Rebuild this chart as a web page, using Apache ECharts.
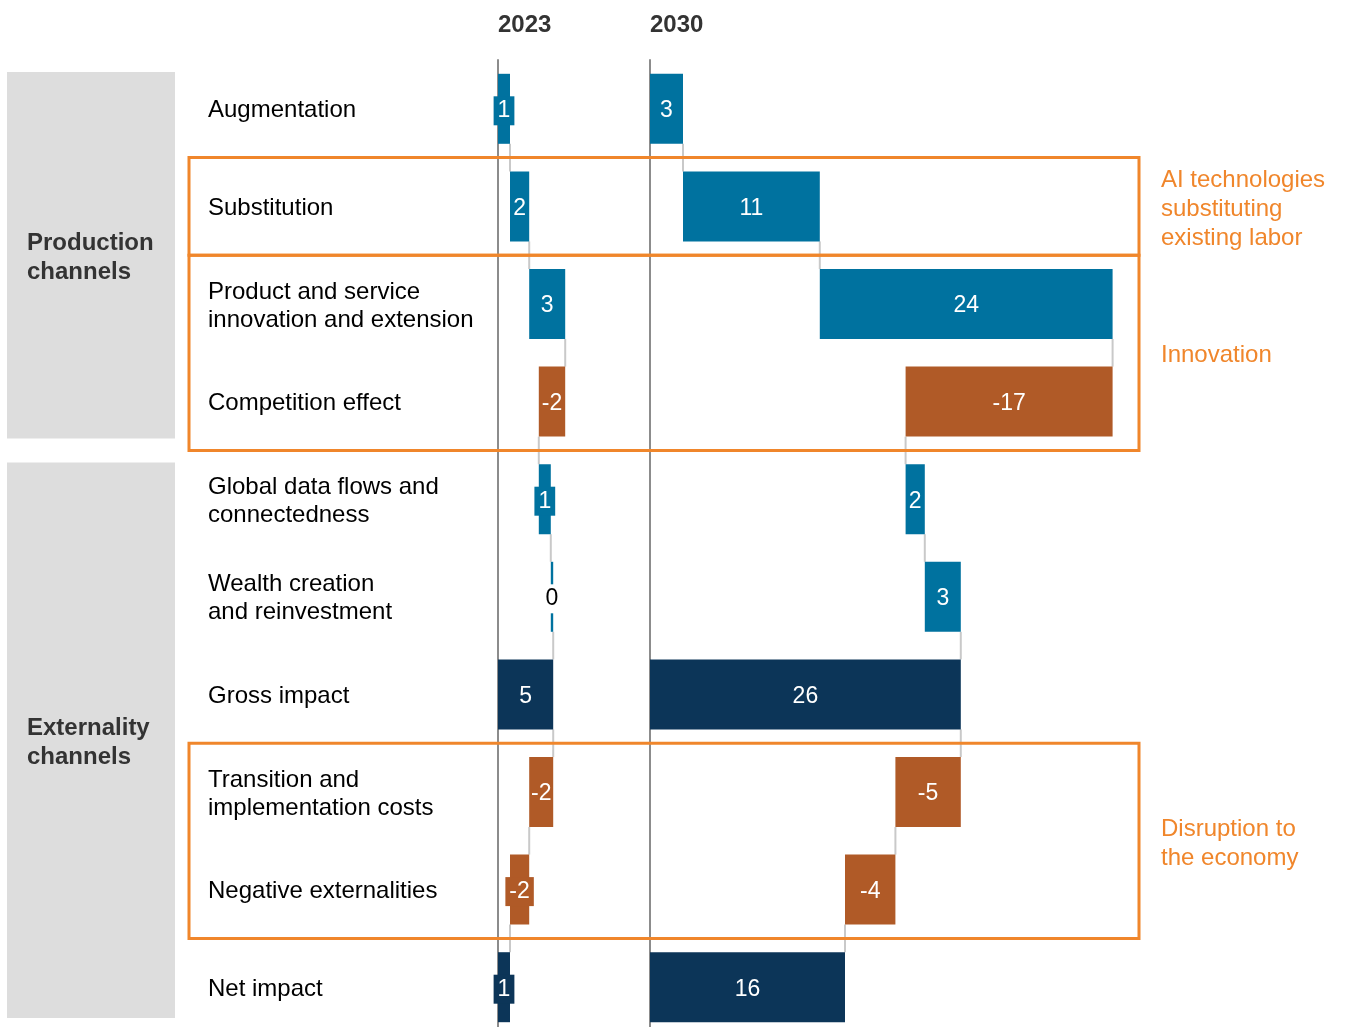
<!DOCTYPE html>
<html>
<head>
<meta charset="utf-8">
<script src="https://cdn.jsdelivr.net/npm/echarts@6/dist/echarts.min.js"></script>
<style>
  html, body { margin: 0; padding: 0; background: #fff; }
  #chart { width: 1346px; height: 1027px; }
</style>
</head>
<body>
<div id="chart"></div>
<script>
// ---- data ----
var categories = [
    'Augmentation',
    'Substitution',
    'Product and service\ninnovation and extension',
    'Competition effect',
    'Global data flows and\nconnectedness',
    'Wealth creation\nand reinvestment',
    'Gross impact',
    'Transition and\nimplementation costs',
    'Negative externalities',
    'Net impact'
];
var kinds = ['delta', 'delta', 'delta', 'delta', 'delta', 'delta', 'total', 'delta', 'delta', 'total'];
var values2023 = [1.0, 1.6, 3.0, -2.2, 1.0, 0.2, 4.6, -2.0, -1.6, 1.0];
var values2030 = [2.75, 11.4, 24.4, -17.25, 1.6, 3.0, 25.9, -5.45, -4.2, 16.25];
var panelTitles = ['2023', '2030'];
var groupNames = ['Production\nchannels', 'Externality\nchannels'];
var groupRows = [[0, 3], [4, 9]];
var noteTexts = ['AI technologies\nsubstituting\nexisting labor', 'Innovation', 'Disruption to\nthe economy'];
var noteRows = [[1, 1], [2, 3], [7, 8]];

// ---- layout ----
var FONT = '"Liberation Sans", Arial, sans-serif';
var TOP = 60;
var ROW = 97.6;
var BAR_H = 70;
var PX = 12;            // pixels per unit, same for both panels
var LABEL_SIZE = 23;
var grids = [
    {left: 498, top: TOP, width: 152, height: ROW * 10},
    {left: 650, top: TOP, width: 489, height: ROW * 10}
];
var colors = {up: '#00729F', down: '#B05A27', total: '#0C3558'};
var ORANGE = '#F0862B';

var bandTop = function (i) { return TOP + i * ROW; };

// rough width of a number label, Arial metrics
var textWidth = function (s) {
    var w = 0;
    for (var i = 0; i < s.length; i++) {
        w += (s[i] === '-' ? 0.333 : 0.556) * LABEL_SIZE;
    }
    return w;
};

var waterfall = function (values) {
    var level = 0, base = [], bars = [], levels = [];
    values.forEach(function (v, i) {
        var start = kinds[i] === 'total' ? 0 : level;
        var end = kinds[i] === 'total' ? v : level + v;
        var c = kinds[i] === 'total' ? colors.total : (v < 0 ? colors.down : colors.up);
        var txt = String(Math.round(v));
        var size = Math.abs(end - start);
        base.push(Math.min(start, end));
        var item = {value: size, raw: v, itemStyle: {color: c}};
        if (Math.round(v) === 0) {
            item.label = {backgroundColor: '#fff', color: '#000'};
        } else if (size * PX < textWidth(txt) + 2) {
            // label wider than its bar: give it a box in the bar colour
            item.label = {backgroundColor: c};
        }
        bars.push(item);
        level = end;
        levels.push(end);
    });
    var links = [];
    for (var i = 0; i < values.length - 1; i++) {
        links.push([levels[i], i]);
    }
    return {base: base, bars: bars, links: links};
};

var panels = [waterfall(values2023), waterfall(values2030)];

var series = [];
panels.forEach(function (p, k) {
    series.push({
        type: 'custom',
        xAxisIndex: k, yAxisIndex: k,
        encode: {x: 0, y: 1},
        z: 1,
        silent: true,
        renderItem: function (params, api) {
            var pt = api.coord([api.value(0), api.value(1)]);
            var band = api.size([0, 1])[1];
            return {
                type: 'line',
                shape: {x1: pt[0], y1: pt[1] + BAR_H / 2, x2: pt[0], y2: pt[1] + band - BAR_H / 2},
                style: {stroke: '#c9c9c9', lineWidth: 2}
            };
        },
        data: p.links
    });
    series.push({
        type: 'bar',
        xAxisIndex: k, yAxisIndex: k,
        stack: 'wf' + k,
        barWidth: BAR_H,
        itemStyle: {color: 'transparent'},
        silent: true,
        data: p.base
    });
    series.push({
        type: 'bar',
        xAxisIndex: k, yAxisIndex: k,
        stack: 'wf' + k,
        barWidth: BAR_H,
        z: 3,
        label: {
            show: true,
            position: 'inside',
            offset: [0, 2],
            color: '#fff',
            fontSize: LABEL_SIZE,
            fontFamily: FONT,
            padding: [3, 4],
            formatter: function (prm) { return String(Math.round(prm.data.raw)); }
        },
        data: p.bars
    });
});

var graphics = [];
panelTitles.forEach(function (t, k) {
    graphics.push({
        type: 'text', z: 10,
        style: {text: t, x: grids[k].left, y: 25, fill: '#333', fontSize: 24, fontWeight: 'bold',
            fontFamily: FONT, verticalAlign: 'middle'}
    });
});
// category names, left aligned in the label column
categories.forEach(function (c, i) {
    graphics.push({
        type: 'text', z: 10,
        style: {text: c, x: 208, y: bandTop(i) + ROW / 2 + 2, fill: '#000', fontSize: 24,
            fontFamily: FONT, lineHeight: 28, verticalAlign: 'middle'}
    });
});
groupNames.forEach(function (name, g) {
    var y0 = bandTop(groupRows[g][0]) + 12;
    var y1 = Math.min(bandTop(groupRows[g][1] + 1) - 12, 1018);
    graphics.push({
        type: 'rect', z: -10,
        shape: {x: 7, y: y0, width: 168, height: y1 - y0},
        style: {fill: '#DDDDDD'}
    });
    graphics.push({
        type: 'text', z: 10,
        style: {text: name, x: 27, y: (y0 + y1) / 2 + 3, fill: '#333', fontSize: 24, fontWeight: 'bold',
            fontFamily: FONT, lineHeight: 29, verticalAlign: 'middle'}
    });
});
noteTexts.forEach(function (t, n) {
    var y0 = bandTop(noteRows[n][0]);
    var y1 = bandTop(noteRows[n][1] + 1);
    graphics.push({
        type: 'rect', z: 20,
        shape: {x: 189, y: y0, width: grids[1].left + grids[1].width - 189, height: y1 - y0},
        style: {fill: 'none', stroke: ORANGE, lineWidth: 3}
    });
    graphics.push({
        type: 'text', z: 10,
        style: {text: t, x: 1161, y: (y0 + y1) / 2 + 3, fill: ORANGE, fontSize: 24,
            fontFamily: FONT, lineHeight: 29, verticalAlign: 'middle'}
    });
});

var chart = echarts.init(document.getElementById('chart'), null, {renderer: 'canvas'});
chart.setOption({
    animation: false,
    backgroundColor: '#fff',
    textStyle: {fontFamily: FONT},
    grid: grids.map(function (g) {
        return {left: g.left, top: g.top, width: g.width, height: g.height,
            containLabel: false, outerBoundsMode: 'none'};
    }),
    xAxis: grids.map(function (g, k) {
        return {type: 'value', gridIndex: k, min: 0, max: g.width / PX, show: false};
    }),
    yAxis: grids.map(function (g, k) {
        return {
            type: 'category', gridIndex: k, inverse: true, data: categories,
            axisLine: {show: true, lineStyle: {color: '#8c8c8c', width: 2}},
            axisTick: {show: false},
            splitLine: {show: false},
            axisLabel: {show: false}
        };
    }),
    graphic: graphics,
    series: series
});
</script>
</body>
</html>
